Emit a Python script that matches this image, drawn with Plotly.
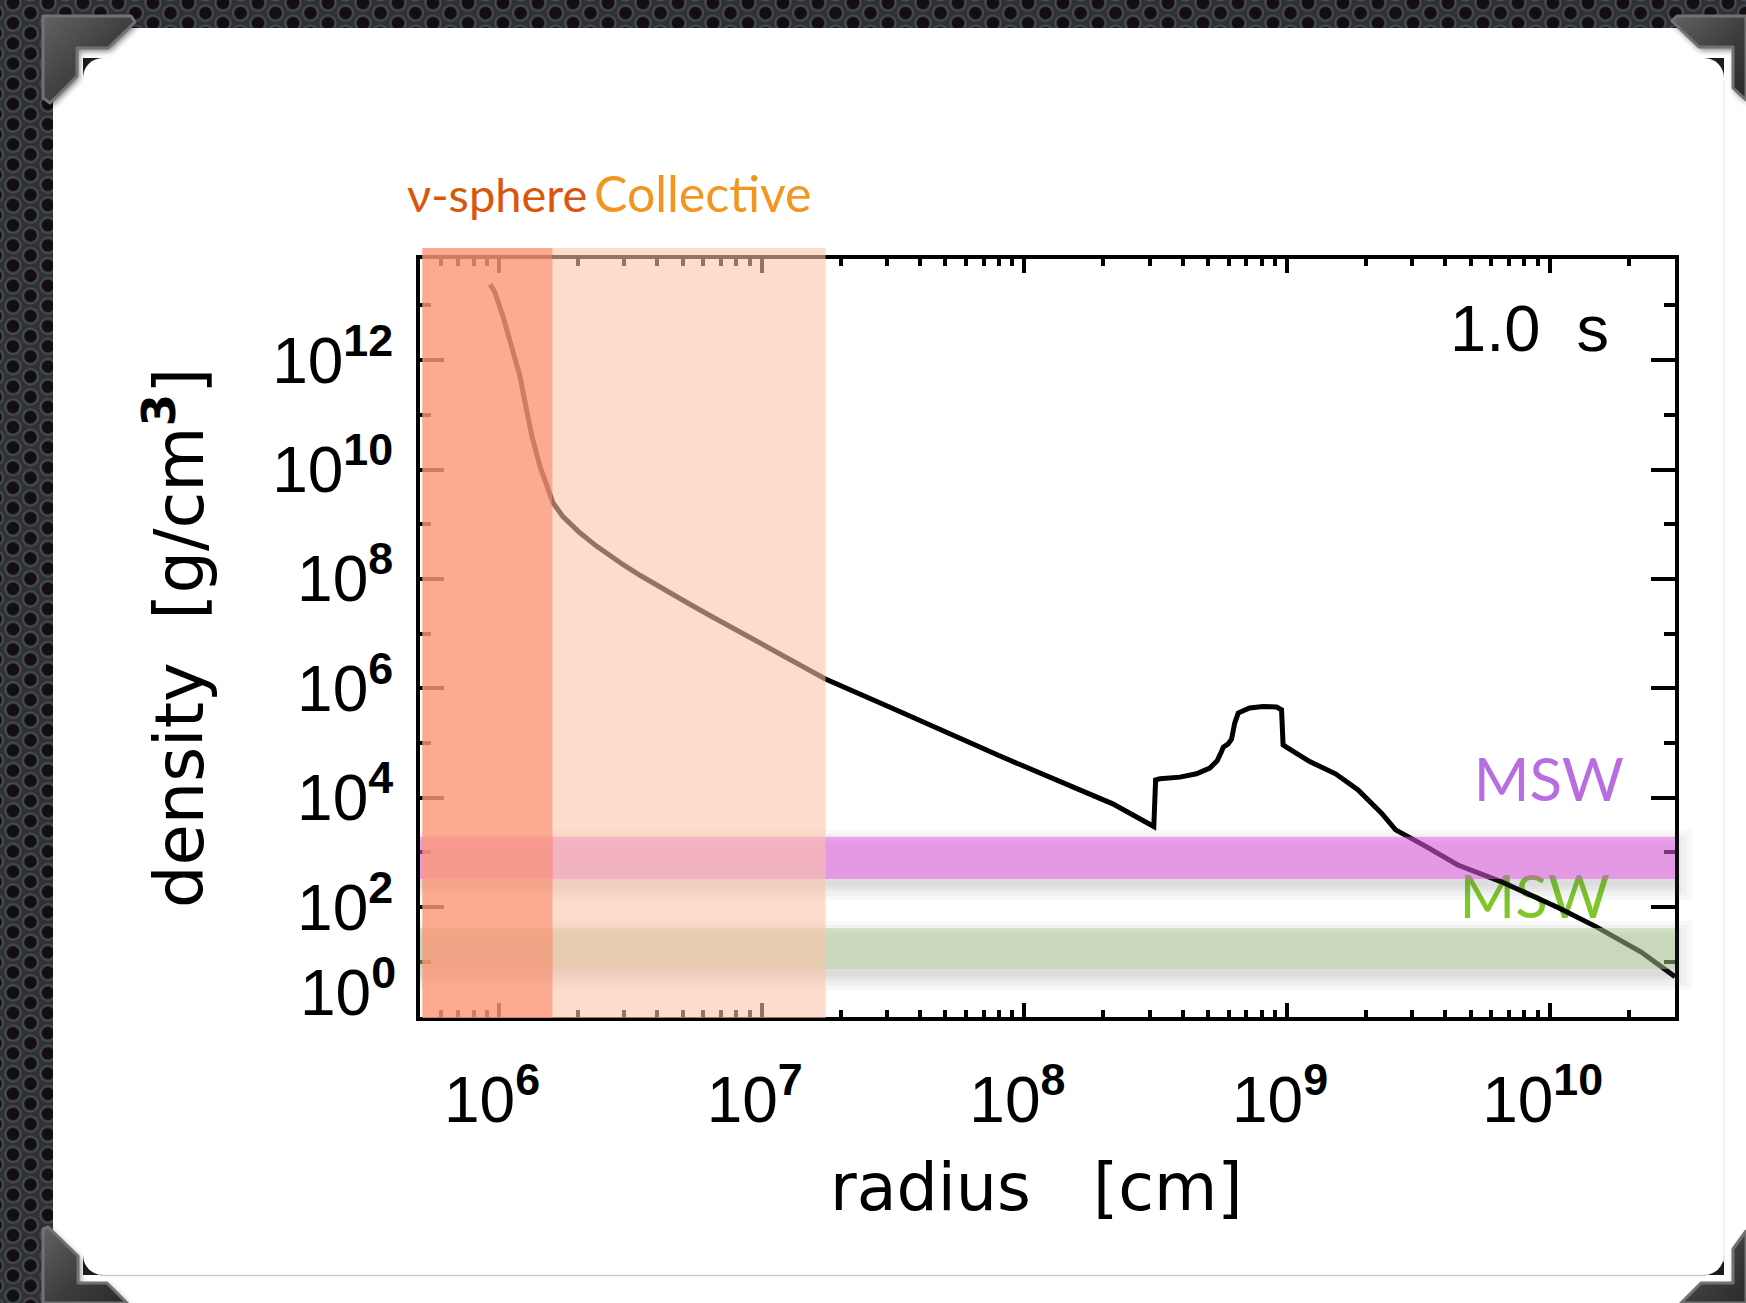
import base64
import math
import plotly.graph_objects as go

W, H = 1746, 1303

# ---------------- density profile at t = 1.0 s ----------------
radius_cm = [
    9.24e5, 9.65e5, 1.035e6, 1.119e6, 1.202e6, 1.256e6, 1.334e6, 1.432e6, 1.535e6, 1.603e6,
    1.75e6, 2.03e6, 2.355e6, 2.649e6, 2.979e6, 3.451e6, 3.99e6, 4.395e6, 5.346e6, 6.501e6,
    7.907e6, 9.886e6, 1.74e7, 3.11e7, 8.20e7, 2.17e8, 3.11e8, 3.16e8, 3.28e8, 3.91e8,
    4.52e8, 5.08e8, 5.42e8, 5.63e8, 5.72e8, 5.97e8, 6.15e8, 6.32e8, 6.52e8, 6.81e8,
    7.21e8, 8.11e8, 9.12e8, 9.53e8, 9.66e8, 9.95e8, 1.22e9, 1.53e9, 1.86e9, 2.29e9,
    2.59e9, 3.35e9, 4.47e9, 6.52e9, 1.08e10, 1.50e10, 2.23e10, 3.0e10,
]
density_g_cm3 = [
    2.43e13, 1.73e13, 6.31e12, 1.78e12, 5.01e11, 1.68e11, 4.02e10, 1.14e10, 4.31e9, 2.49e9,
    1.38e9, 6.99e8, 3.95e8, 2.63e8, 1.80e8, 1.156e8, 7.62e7, 5.82e7, 3.41e7, 2.02e7,
    1.21e7, 6.65e6, 1.50e6, 4.42e5, 5.60e4, 7.73e3, 2.97e3, 2.12e4, 2.22e4, 2.38e4,
    2.74e4, 3.48e4, 4.73e4, 7.00e4, 8.43e4, 9.68e4, 1.18e5, 2.32e5, 3.53e5, 3.89e5,
    4.37e5, 4.67e5, 4.55e5, 4.06e5, 9.29e4, 8.43e4, 4.59e4, 2.74e4, 1.40e4, 5.22e3,
    2.59e3, 1.32e3, 5.89e2, 2.93e2, 9.77e1, 4.40e1, 1.51e1, 5.35,
]

# axis ranges
x_range_cm = [5.0e5, 3.0e10]
y_range_log = [0.0, 13.85]

# ticks
x_major_cm = [1e6, 1e7, 1e8, 1e9, 1e10]
x_major_text = ["10<sup><b>6</b></sup>", "10<sup><b>7</b></sup>", "10<sup><b>8</b></sup>",
                "10<sup><b>9</b></sup>", "10<sup><b>10</b></sup>"]
x_minor_cm = [m * 10.0 ** e for e in range(5, 11) for m in range(2, 10)
              if x_range_cm[0] < m * 10.0 ** e < x_range_cm[1]]
y_major = [1e0, 1e2, 1e4, 1e6, 1e8, 1e10, 1e12]
y_major_text = ["", "10<sup><b>2</b></sup>", "10<sup><b>4</b></sup>", "10<sup><b>6</b></sup>",
                "10<sup><b>8</b></sup>", "10<sup><b>10</b></sup>", "10<sup><b>12</b></sup>"]
y_bottom_label = "10<sup><b>0</b></sup>"
y_minor = [1e1, 1e3, 1e5, 1e7, 1e9, 1e11, 1e13]

# highlighted regions
nu_sphere_cm = [5.1e5, 1.6e6]
collective_cm = [1.6e6, 1.75e7]
msw_high_density = [328.0, 1930.0]
msw_low_density = [7.4, 41.7]

# region labels (positions in data units)
msw_label_text = ["MSW", "MSW"]
msw_label_radius = [9.93e9, 8.77e9]
msw_label_density = [1.63e4, 117.0]

time_label = "1.0 s"
x_title = "radius\u00a0\u00a0\u00a0[cm]"
y_title = "density\u00a0\u00a0[g/cm<sup><b>3</b></sup>]"

# colours
C_NU = "#D9560B"
C_COLL = "#F3951F"
C_MSW_H = "#B86EE0"
C_MSW_L = "#7DC828"

AXIS_FONT = "Liberation Sans, Arial, sans-serif"
TITLE_FONT = "DejaVu Sans, Verdana, sans-serif"
SLIDE_FONT = "Lato, 'Open Sans', sans-serif"

# ---------------- plot geometry (pixels) ----------------
X0_PX, X1_PX = 420.0, 1675.0
YT_PX, YB_PX = 259.0, 1016.5
xdom = [X0_PX / W, X1_PX / W]
ydom = [1 - YB_PX / H, 1 - YT_PX / H]


def py(p):
    """pixel row -> paper y"""
    return 1 - p / H


def px(p):
    return p / W


def density_to_px(v):
    f = (math.log10(v) - y_range_log[0]) / (y_range_log[1] - y_range_log[0])
    return YB_PX - f * (YB_PX - YT_PX)


# ---------------- slide frame graphics ----------------
def frame_below_svg():
    s = [f'<svg xmlns="http://www.w3.org/2000/svg" width="{W}" height="{H}" viewBox="0 0 {W} {H}">',
         '<defs><pattern id="holes" x="13" y="3" width="35" height="20.2" patternUnits="userSpaceOnUse">',
         '<rect width="35" height="20.2" fill="#2e3237"/>']
    for cx, cy in [(0, 0), (35, 0), (0, 20.2), (35, 20.2), (17.5, 10.1)]:
        s.append(f'<circle cx="{cx}" cy="{cy}" r="8.6" fill="#4a5057"/>')
        s.append(f'<circle cx="{cx}" cy="{cy}" r="7.4" fill="#3a3f45"/>')
        s.append(f'<circle cx="{cx}" cy="{cy}" r="6.2" fill="#130e12"/>')
    s.append('</pattern></defs>')
    s.append(f'<rect width="{W}" height="{H}" fill="url(#holes)"/>')
    s.append(f'<rect x="53" y="28" width="{W - 53}" height="{H - 28}" fill="#ffffff"/>')
    s.append('<rect x="83" y="58" width="1641" height="1217" fill="#1c1b22"/>')
    s.append('<rect x="83" y="58" width="1641" height="1217" rx="20" ry="20" fill="#ffffff"/>')
    s.append('<line x1="1724" y1="80" x2="1724" y2="1262" stroke="#eeeeee" stroke-width="1.5"/>')
    s.append('<line x1="100" y1="1275.5" x2="1706" y2="1275.5" stroke="#c9c9c9" stroke-width="1.5"/>')
    s.append('</svg>')
    return "".join(s)


def frame_above_svg():
    brackets = [
        "43,16 131,16 135,22 108,48 77,48 77,76 50,103 43,98",
        "43,1229 48,1227 78,1256 78,1283 107,1283 127,1303 43,1303",
        "1746,1231 1733,1249 1733,1283 1701,1283 1681,1303 1746,1303",
        "1672,21 1677,16 1746,16 1746,100 1733,88 1733,47 1699,47",
    ]
    s = [f'<svg xmlns="http://www.w3.org/2000/svg" width="{W}" height="{H}" viewBox="0 0 {W} {H}">',
         '<defs>',
         '<linearGradient id="metal" x1="0" y1="0" x2="1" y2="1">',
         '<stop offset="0" stop-color="#626262"/><stop offset="0.55" stop-color="#3d3d3d"/>',
         '<stop offset="1" stop-color="#2a2a2a"/></linearGradient>',
         '<filter id="soft" x="-30%" y="-30%" width="160%" height="160%">',
         '<feGaussianBlur stdDeviation="3"/></filter>',
         '</defs>']
    for pts in brackets:
        s.append(f'<polygon points="{pts}" fill="#000" opacity="0.55" filter="url(#soft)" '
                 f'transform="translate(2,3)"/>')
        s.append(f'<polygon points="{pts}" fill="url(#metal)" stroke="#727272" stroke-width="3" '
                 f'stroke-linejoin="round"/>')
    s.append('</svg>')
    return "".join(s)


def svg_uri(svg):
    return "data:image/svg+xml;base64," + base64.b64encode(svg.encode("utf-8")).decode("ascii")


# ---------------- figure ----------------
fig = go.Figure()

# MSW labels sit underneath the profile line
fig.add_trace(go.Scatter(
    x=msw_label_radius, y=msw_label_density, mode="text", text=msw_label_text,
    textposition="middle center",
    textfont=dict(family=SLIDE_FONT, size=60, color=[C_MSW_H, C_MSW_L]),
    hoverinfo="skip", showlegend=False,
))

fig.add_trace(go.Scatter(
    x=radius_cm, y=density_g_cm3, mode="lines",
    line=dict(color="black", width=5),
    hoverinfo="skip", showlegend=False,
))

shapes = []

# MSW bands with a soft drop shadow
for (lo, hi), col, alpha in [(msw_high_density, "rgb(233,85,233)", 0.5),
                             (msw_low_density, "rgb(177,211,144)", 0.45)]:
    top = density_to_px(hi)
    bot = density_to_px(lo)
    for e in [14, 10, 6, 3, 0]:
        shapes.append(dict(
            type="rect", xref="paper", yref="paper", layer="above",
            x0=xdom[0], x1=px(X1_PX + e * 1.2),
            y0=py(bot + 7 + e), y1=py(top + 7 - e),
            fillcolor="#555555", opacity=0.045, line=dict(width=0),
        ))
    shapes.append(dict(
        type="rect", xref="paper", yref="y", layer="above",
        x0=xdom[0], x1=xdom[1], y0=lo, y1=hi,
        fillcolor=col, opacity=alpha, line=dict(width=0),
    ))

# neutrino-sphere and collective regions
for (r0, r1), col, alpha in [(nu_sphere_cm, "rgb(251,153,122)", 0.82),
                             (collective_cm, "rgb(254,195,169)", 0.59)]:
    shapes.append(dict(
        type="rect", xref="x", yref="paper", layer="above",
        x0=r0, x1=r1, y0=py(1018), y1=py(248),
        fillcolor=col, opacity=alpha, line=dict(width=0),
    ))

annotations = [
    dict(text="ν-sphere", x=px(589), y=py(194.0), xanchor="right", yanchor="middle",
         font=dict(family=SLIDE_FONT, size=47, color=C_NU)),
    dict(text="Collective", x=px(592), y=py(192.5), xanchor="left", yanchor="middle",
         font=dict(family=SLIDE_FONT, size=50, color=C_COLL)),
    dict(text=time_label.replace(" ", "\u00a0\u00a0"), x=px(1529), y=py(328.8),
         xanchor="center", yanchor="middle",
         font=dict(family=AXIS_FONT, size=65, color="black")),
    dict(text=x_title, x=px(1036), y=py(1187),
         xanchor="center", yanchor="middle",
         font=dict(family=TITLE_FONT, size=65, color="black")),
    dict(text=y_title, x=px(175), y=py(638), textangle=-90,
         xanchor="center", yanchor="middle",
         font=dict(family=TITLE_FONT, size=67, color="black")),
    dict(text=y_bottom_label, x=px(398), y=py(988), xanchor="right", yanchor="middle",
         font=dict(family=AXIS_FONT, size=64, color="black")),
]
for a in annotations:
    a.update(xref="paper", yref="paper", showarrow=False)

tickfont = dict(family=AXIS_FONT, size=64, color="black")
xr = [math.log10(x_range_cm[0]), math.log10(x_range_cm[1])]

fig.update_layout(
    width=W, height=H, autosize=False,
    margin=dict(l=0, r=0, t=0, b=0, pad=0),
    paper_bgcolor="#2e3237", plot_bgcolor="rgba(0,0,0,0)",
    showlegend=False,
    xaxis=dict(
        type="log", range=xr, domain=xdom, anchor="y",
        showline=True, linecolor="black", linewidth=4, mirror="ticks",
        ticks="inside", ticklen=14, tickwidth=4, tickcolor="black",
        tickmode="array", tickvals=x_major_cm, ticktext=x_major_text,
        tickfont=tickfont, ticklabelstandoff=25, ticklabelshift=-7,
        showgrid=False, zeroline=False,
        minor=dict(tickmode="array", tickvals=x_minor_cm, ticks="inside", ticklen=7,
                   tickwidth=4, tickcolor="black", showgrid=False),
    ),
    xaxis2=dict(
        type="log", range=xr, domain=xdom, anchor="y", overlaying="x", side="bottom",
        showline=False, showgrid=False, zeroline=False, showticklabels=False,
        ticks="outside", ticklen=15, tickwidth=4, tickcolor="black",
        tickmode="array", tickvals=x_major_cm,
        minor=dict(tickmode="array", tickvals=x_minor_cm, ticks="outside", ticklen=7,
                   tickwidth=4, tickcolor="black", showgrid=False),
    ),
    xaxis3=dict(
        type="log", range=xr, domain=xdom, anchor="y", overlaying="x", side="top",
        showline=False, showgrid=False, zeroline=False, showticklabels=False,
        ticks="", tickmode="array", tickvals=x_major_cm,
        minor=dict(tickmode="array", tickvals=x_minor_cm, ticks="outside", ticklen=7,
                   tickwidth=4, tickcolor="black", showgrid=False),
    ),
    yaxis=dict(
        type="log", range=y_range_log, domain=ydom, anchor="x",
        showline=True, linecolor="black", linewidth=4, mirror="ticks",
        ticks="inside", ticklen=24, tickwidth=4, tickcolor="black",
        tickmode="array", tickvals=y_major, ticktext=y_major_text,
        tickfont=tickfont, ticklabelstandoff=10,
        showgrid=False, zeroline=False,
        minor=dict(tickmode="array", tickvals=y_minor, ticks="inside", ticklen=11,
                   tickwidth=4, tickcolor="black", showgrid=False),
    ),
    shapes=shapes,
    annotations=annotations,
    images=[
        dict(source=svg_uri(frame_below_svg()), xref="paper", yref="paper", x=0, y=1,
             sizex=1, sizey=1, xanchor="left", yanchor="top", sizing="stretch", layer="below"),
        dict(source=svg_uri(frame_above_svg()), xref="paper", yref="paper", x=0, y=1,
             sizex=1, sizey=1, xanchor="left", yanchor="top", sizing="stretch", layer="above"),
    ],
)

fig.write_html("out.html", config={"displayModeBar": False})
